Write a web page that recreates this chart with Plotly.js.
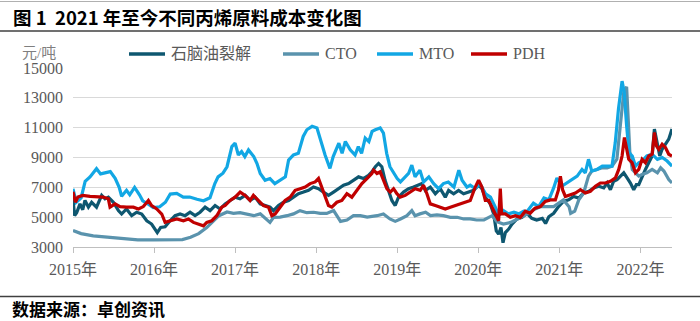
<!DOCTYPE html>
<html>
<head>
<meta charset="utf-8">
<script src="https://cdn.plot.ly/plotly-3.0.1.min.js"></script>
<style>
  html, body { margin: 0; padding: 0; background: #ffffff; }
  #chart { width: 700px; height: 321px; }
</style>
</head>
<body>
<div id="chart"></div>
<script>
// ---------- Data (x = decimal year) ----------
const seriesNames = ["石脑油裂解", "CTO", "MTO", "PDH"];
const seriesColors = ["#0e5770", "#5a93ad", "#12a7e4", "#c00000"];

const yearTicks = [2015, 2016, 2017, 2018, 2019, 2020, 2021, 2022];
const yearTickText = ["2015年", "2016年", "2017年", "2018年", "2019年", "2020年", "2021年", "2022年"];
const yTicks = [3000, 5000, 7000, 9000, 11000, 13000, 15000];
const yTickText = ["3000", "5000", "7000", "9000", "11000", "13000", "15000"];

const naphthaX = [2015.00, 2015.02, 2015.045, 2015.086, 2015.12, 2015.148, 2015.19, 2015.23, 2015.29, 2015.354, 2015.395, 2015.436, 2015.498, 2015.56, 2015.60, 2015.66, 2015.724, 2015.786, 2015.848, 2015.91, 2015.97, 2016.012, 2016.04, 2016.082, 2016.136, 2016.198, 2016.259, 2016.321, 2016.383, 2016.444, 2016.506, 2016.568, 2016.63, 2016.691, 2016.753, 2016.815, 2016.877, 2016.94, 2017.0, 2017.06, 2017.124, 2017.185, 2017.247, 2017.309, 2017.37, 2017.432, 2017.473, 2017.535, 2017.597, 2017.66, 2017.72, 2017.782, 2017.844, 2017.906, 2017.967, 2018.029, 2018.09, 2018.152, 2018.214, 2018.276, 2018.338, 2018.40, 2018.461, 2018.523, 2018.584, 2018.646, 2018.687, 2018.73, 2018.77, 2018.81, 2018.85, 2018.893, 2018.934, 2018.975, 2019.016, 2019.078, 2019.14, 2019.202, 2019.264, 2019.305, 2019.346, 2019.408, 2019.47, 2019.531, 2019.593, 2019.634, 2019.696, 2019.757, 2019.819, 2019.881, 2019.943, 2020.004, 2020.045, 2020.087, 2020.148, 2020.19, 2020.222, 2020.251, 2020.28, 2020.305, 2020.334, 2020.375, 2020.416, 2020.478, 2020.54, 2020.60, 2020.66, 2020.72, 2020.79, 2020.83, 2020.87, 2020.93, 2020.99, 2021.05, 2021.115, 2021.177, 2021.24, 2021.30, 2021.363, 2021.424, 2021.486, 2021.548, 2021.59, 2021.63, 2021.67, 2021.712, 2021.753, 2021.795, 2021.836, 2021.877, 2021.918, 2021.95, 2021.98, 2022.02, 2022.062, 2022.103, 2022.145, 2022.173, 2022.206, 2022.239, 2022.268, 2022.309, 2022.35, 2022.39];
const naphthaY = [6200, 5100, 5300, 5890, 5500, 6120, 5670, 6000, 5670, 6460, 6230, 6340, 6000, 5440, 5210, 5550, 5100, 5330, 5210, 4760, 4540, 4200, 3970, 4310, 4360, 4760, 5100, 5210, 5100, 5330, 5100, 5330, 5670, 5440, 5780, 5550, 5890, 6120, 6340, 6230, 6460, 6120, 6340, 5890, 5780, 5670, 5440, 5780, 6000, 6120, 6340, 6570, 6680, 6800, 7020, 6910, 6680, 6460, 6680, 6910, 7140, 7250, 7475, 7700, 7590, 7810, 8040, 8380, 8600, 8380, 7475, 6800, 6120, 5780, 6340, 6680, 6910, 7020, 7140, 7250, 6800, 7020, 6570, 6910, 6340, 6800, 6570, 6800, 6570, 6680, 6800, 7140, 6910, 6340, 5890, 5210, 4085, 3860, 4310, 3290, 3970, 4200, 4540, 4880, 4990, 5260, 4920, 4810, 4920, 4580, 5030, 5260, 5710, 6050, 6160, 6390, 6280, 6620, 6730, 6960, 7070, 6960, 7290, 6840, 7410, 7520, 7750, 7970, 7630, 7290, 6840, 7180, 7180, 7750, 8200, 8650, 9100, 10910, 10000, 9100, 9550, 9890, 10230, 10910];

const ctoX = [2015.00, 2015.10, 2015.25, 2015.45, 2015.60, 2015.80, 2016.00, 2016.20, 2016.35, 2016.45, 2016.55, 2016.65, 2016.73, 2016.80, 2016.90, 2016.98, 2017.06, 2017.145, 2017.23, 2017.31, 2017.39, 2017.43, 2017.475, 2017.555, 2017.64, 2017.72, 2017.80, 2017.885, 2017.97, 2018.05, 2018.13, 2018.215, 2018.255, 2018.30, 2018.38, 2018.46, 2018.545, 2018.63, 2018.75, 2018.83, 2018.91, 2018.975, 2019.04, 2019.12, 2019.18, 2019.22, 2019.28, 2019.35, 2019.41, 2019.49, 2019.57, 2019.655, 2019.74, 2019.82, 2019.90, 2019.98, 2020.07, 2020.13, 2020.17, 2020.23, 2020.31, 2020.40, 2020.48, 2020.56, 2020.62, 2020.68, 2020.77, 2020.85, 2020.93, 2021.05, 2021.12, 2021.14, 2021.19, 2021.24, 2021.30, 2021.36, 2021.40, 2021.465, 2021.53, 2021.59, 2021.65, 2021.71, 2021.75, 2021.795, 2021.83, 2021.845, 2021.87, 2021.90, 2021.94, 2021.98, 2022.02, 2022.08, 2022.145, 2022.21, 2022.25, 2022.29, 2022.35, 2022.39];
const ctoY = [4100, 3900, 3750, 3650, 3550, 3480, 3480, 3480, 3500, 3650, 3900, 4300, 4700, 5100, 5350, 5260, 5300, 5220, 5100, 5220, 4880, 4650, 4990, 5000, 5100, 5220, 5440, 5300, 5330, 5250, 5250, 5440, 5100, 4720, 4810, 5100, 5100, 5000, 5100, 5220, 4880, 4720, 4880, 5100, 5440, 5100, 5220, 5330, 5100, 5150, 5100, 4990, 4990, 4880, 4880, 4810, 4810, 4990, 5100, 4700, 4540, 4650, 4880, 5100, 5250, 5500, 5710, 5710, 5710, 6160, 5700, 5260, 5400, 6160, 6620, 7750, 8090, 8200, 8310, 8310, 8420, 8880, 11140, 13400, 13740, 12270, 9330, 8200, 7970, 7750, 7860, 7970, 8200, 7970, 8310, 8090, 7520, 7290];

const mtoX = [2015.00, 2015.04, 2015.10, 2015.15, 2015.21, 2015.29, 2015.34, 2015.40, 2015.46, 2015.52, 2015.57, 2015.60, 2015.66, 2015.70, 2015.76, 2015.82, 2015.86, 2015.92, 2015.99, 2016.07, 2016.14, 2016.20, 2016.28, 2016.36, 2016.44, 2016.53, 2016.61, 2016.69, 2016.75, 2016.79, 2016.85, 2016.90, 2016.96, 2017.00, 2017.04, 2017.08, 2017.12, 2017.165, 2017.23, 2017.27, 2017.31, 2017.37, 2017.43, 2017.49, 2017.56, 2017.62, 2017.66, 2017.72, 2017.78, 2017.84, 2017.885, 2017.95, 2018.01, 2018.05, 2018.11, 2018.17, 2018.21, 2018.28, 2018.32, 2018.36, 2018.42, 2018.48, 2018.52, 2018.56, 2018.605, 2018.65, 2018.69, 2018.73, 2018.79, 2018.83, 2018.87, 2018.91, 2018.955, 2019.00, 2019.04, 2019.08, 2019.14, 2019.18, 2019.22, 2019.28, 2019.325, 2019.39, 2019.45, 2019.51, 2019.57, 2019.63, 2019.70, 2019.76, 2019.80, 2019.86, 2019.90, 2019.96, 2020.02, 2020.09, 2020.15, 2020.21, 2020.25, 2020.31, 2020.37, 2020.44, 2020.50, 2020.56, 2020.60, 2020.68, 2020.745, 2020.81, 2020.87, 2020.93, 2020.97, 2021.03, 2021.095, 2021.16, 2021.22, 2021.28, 2021.32, 2021.36, 2021.40, 2021.465, 2021.53, 2021.59, 2021.65, 2021.69, 2021.73, 2021.774, 2021.80, 2021.83, 2021.86, 2021.90, 2021.94, 2021.98, 2022.02, 2022.08, 2022.145, 2022.21, 2022.27, 2022.33, 2022.39];
const mtoY = [6900, 6000, 6300, 7400, 7700, 8250, 7900, 8000, 8050, 7600, 7000, 6400, 6800, 6500, 7000, 6500, 6100, 5900, 5650, 5700, 6000, 6550, 6600, 6350, 6350, 6200, 6100, 6300, 7250, 7700, 7950, 8380, 9730, 9960, 9170, 9400, 9060, 9510, 9060, 8600, 7930, 7475, 7590, 7250, 7475, 7700, 8830, 9170, 9280, 10410, 10860, 11090, 10980, 10190, 9170, 8270, 9060, 9960, 9280, 10070, 9510, 9170, 9730, 9280, 10300, 10070, 10750, 10860, 10980, 10640, 9280, 8380, 7930, 7590, 7360, 7590, 7930, 8490, 7700, 8150, 7360, 7700, 7250, 6910, 7250, 7360, 7020, 8150, 7475, 7020, 7140, 6910, 7250, 6570, 6345, 5670, 5110, 5440, 5220, 5330, 5220, 5400, 5370, 5940, 5710, 6280, 6160, 6960, 7630, 7070, 7290, 7520, 7750, 8200, 7970, 8880, 8090, 8200, 8420, 8420, 8420, 10000, 12270, 14120, 13400, 11140, 9330, 9100, 8420, 8650, 8760, 9100, 9220, 8880, 9000, 8760, 8420];

const pdhX = [2015.00, 2015.03, 2015.06, 2015.12, 2015.21, 2015.29, 2015.37, 2015.436, 2015.457, 2015.52, 2015.58, 2015.66, 2015.745, 2015.807, 2015.868, 2015.93, 2015.97, 2016.033, 2016.095, 2016.136, 2016.198, 2016.28, 2016.362, 2016.424, 2016.486, 2016.548, 2016.609, 2016.65, 2016.712, 2016.774, 2016.835, 2016.877, 2016.938, 2017.0, 2017.062, 2017.124, 2017.185, 2017.226, 2017.288, 2017.35, 2017.412, 2017.453, 2017.494, 2017.556, 2017.617, 2017.679, 2017.741, 2017.802, 2017.864, 2017.926, 2017.988, 2018.029, 2018.07, 2018.111, 2018.152, 2018.193, 2018.255, 2018.317, 2018.379, 2018.44, 2018.502, 2018.564, 2018.626, 2018.687, 2018.708, 2018.75, 2018.79, 2018.83, 2018.872, 2018.914, 2018.955, 2018.996, 2019.037, 2019.099, 2019.16, 2019.222, 2019.284, 2019.325, 2019.366, 2019.408, 2019.47, 2019.531, 2019.593, 2019.655, 2019.716, 2019.778, 2019.84, 2019.901, 2019.963, 2020.004, 2020.045, 2020.087, 2020.128, 2020.169, 2020.21, 2020.251, 2020.272, 2020.288, 2020.334, 2020.395, 2020.457, 2020.519, 2020.58, 2020.64, 2020.70, 2020.766, 2020.827, 2020.889, 2020.951, 2020.99, 2021.013, 2021.04, 2021.074, 2021.136, 2021.198, 2021.26, 2021.321, 2021.383, 2021.445, 2021.506, 2021.568, 2021.63, 2021.692, 2021.733, 2021.774, 2021.803, 2021.827, 2021.856, 2021.897, 2021.939, 2021.98, 2022.021, 2022.062, 2022.103, 2022.145, 2022.173, 2022.198, 2022.227, 2022.268, 2022.309, 2022.35, 2022.39];
const pdhY = [6700, 6000, 6345, 6460, 6390, 6390, 6345, 6230, 5670, 5890, 5710, 5670, 5670, 5550, 5710, 6120, 5780, 5550, 5210, 4650, 4760, 4880, 4760, 4880, 4650, 4540, 4420, 4650, 4760, 5100, 5670, 5780, 6120, 6340, 6680, 6460, 6120, 6460, 6120, 5780, 5670, 5100, 5210, 5670, 6120, 6340, 6800, 6910, 7020, 7250, 7360, 7590, 7020, 6340, 5780, 5670, 6000, 6120, 6570, 6340, 6800, 7250, 7590, 7930, 8150, 7930, 8040, 7475, 6910, 6680, 6910, 6570, 6345, 6460, 6680, 6910, 6800, 7140, 6570, 5890, 5780, 5670, 5550, 5670, 5780, 5890, 6000, 6120, 7020, 7475, 7020, 6120, 6120, 5670, 5220, 4760, 6910, 5220, 5220, 4990, 5100, 4990, 5400, 5260, 5600, 5710, 6050, 6160, 6160, 6840, 7750, 6840, 6390, 6500, 6620, 6840, 6620, 6730, 7070, 7290, 7290, 7410, 7630, 8200, 9100, 10340, 9550, 8880, 8650, 7970, 8200, 8880, 8650, 9100, 9220, 10680, 9780, 9550, 9890, 9670, 9220, 9100];

// ---------- Geometry helpers (pixel -> paper) ----------
const L = 73, R = 672, T = 68, B = 247;
const px = v => (v - L) / (R - L);
const py = v => (B - v) / (B - T);

const serif = "Liberation Serif, Times New Roman, Noto Sans CJK SC, serif";
const cjk = "Noto Sans CJK SC, sans-serif";
const grey = "#595959";

const xs = [naphthaX, ctoX, mtoX, pdhX];
const ys = [naphthaY, ctoY, mtoY, pdhY];

const traces = seriesNames.map((n, i) => ({
  type: "scatter", mode: "lines", name: n,
  x: xs[i], y: ys[i],
  line: { color: seriesColors[i], width: 3.2 },
  showlegend: false, hoverinfo: "skip"
}));

// manual legend (line samples + labels)
const legendLines = [[129, 165], [283, 319], [377, 413], [471, 507]];
const legendY = 54;

const shapes = [
  { type: "line", xref: "paper", yref: "paper", x0: px(0), x1: px(700), y0: py(1.5), y1: py(1.5), line: { color: "#b0b0b0", width: 1 } },
  { type: "line", xref: "paper", yref: "paper", x0: px(0), x1: px(700), y0: py(31), y1: py(31), line: { color: "#404040", width: 1.5 } },
  { type: "line", xref: "paper", yref: "paper", x0: px(0), x1: px(700), y0: py(296.5), y1: py(296.5), line: { color: "#404040", width: 1.5 } }
];
legendLines.forEach((seg, i) => {
  shapes.push({ type: "line", xref: "paper", yref: "paper", x0: px(seg[0]), x1: px(seg[1]), y0: py(legendY), y1: py(legendY),
    line: { color: seriesColors[i], width: 3.5 } });
});

const annotations = [
  { text: "<b>图 1  2021 年至今不同丙烯原料成本变化图</b>", xref: "paper", yref: "paper", x: px(11), y: py(17.5),
    xanchor: "left", yanchor: "middle", showarrow: false, font: { family: cjk, size: 18.5, color: "#000000" } },
  { text: "<b>数据来源：卓创资讯</b>", xref: "paper", yref: "paper", x: px(11), y: py(308.5),
    xanchor: "left", yanchor: "middle", showarrow: false, borderpad: 0, font: { family: cjk, size: 17, color: "#000000" } },
  { text: "元/吨", xref: "paper", yref: "paper", x: px(21), y: py(53),
    xanchor: "left", yanchor: "middle", showarrow: false, borderpad: 0, font: { family: serif, size: 15, color: "#7f7f7f" } }
];
legendLines.forEach((seg, i) => {
  annotations.push({ text: seriesNames[i], xref: "paper", yref: "paper", x: px(seg[1] + 4), y: py(legendY),
    xanchor: "left", yanchor: "middle", showarrow: false, font: { family: serif, size: 16, color: grey } });
});

const layout = {
  width: 700, height: 321,
  margin: { l: L, r: 700 - R, t: T, b: 321 - B, pad: 0 },
  paper_bgcolor: "#ffffff", plot_bgcolor: "#ffffff",
  showlegend: false,
  xaxis: {
    range: [2015, 2022.39], tickmode: "array", tickvals: yearTicks, ticktext: yearTickText,
    showgrid: false, zeroline: false, showline: true, linecolor: "#bfbfbf", linewidth: 1,
    ticks: "outside", ticklen: 5, tickcolor: "#bfbfbf", tickwidth: 1,
    ticklabelstandoff: 3,
    tickfont: { family: serif, size: 16, color: grey }
  },
  yaxis: {
    range: [3000, 15000], tickmode: "array", tickvals: yTicks, ticktext: yTickText,
    showgrid: true, gridcolor: "#d9d9d9", gridwidth: 1, zeroline: false, showline: false,
    ticks: "", ticklabelstandoff: 9,
    tickfont: { family: serif, size: 16, color: grey }
  },
  shapes: shapes,
  annotations: annotations
};

Plotly.newPlot("chart", traces, layout, { displayModeBar: false, staticPlot: true });
</script>
</body>
</html>
